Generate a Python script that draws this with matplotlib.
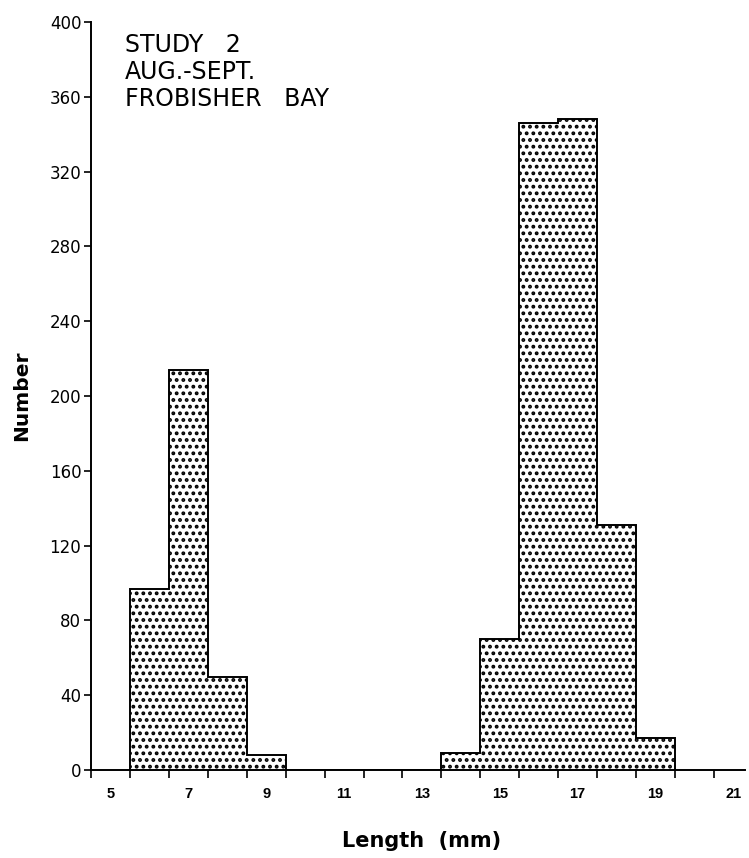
import numpy as np
import matplotlib
matplotlib.use("Agg")
import matplotlib.pyplot as plt
from matplotlib.ticker import FixedLocator, NullFormatter

# Length-frequency data (1 mm bins)
length_mm = [6, 7, 8, 9, 10, 11, 12, 13, 14, 15, 16, 17, 18, 19]
counts = [97, 214, 50, 8, 0, 0, 0, 0, 9, 70, 346, 348, 131, 17]

y_ticks = [0, 40, 80, 120, 160, 200, 240, 280, 320, 360, 400]
x_label_ticks = [5, 7, 9, 11, 13, 15, 17, 19, 21]
panel_text = ["STUDY   2", "AUG.-SEPT.", "FROBISHER   BAY"]

W, H = 749, 858
# dpi 80 makes the dot screen spacing closer to the printed one;
# point sizes are scaled back up so text keeps its pixel size
DPI = 80
S = 100 / DPI

plt.rcParams.update({
    "font.family": ["DejaVu Sans"],
    "hatch.linewidth": 1.8 * S,
    "hatch.color": "black",
})

fig = plt.figure(figsize=(W / DPI, H / DPI), dpi=DPI)
left, right, bottom, top = 91 / W, 745 / W, 1 - 770 / H, 1 - 22 / H
ax = fig.add_axes([left, bottom, right - left, top - bottom])

centers = np.asarray(length_mm, dtype=float)
edges = np.append(centers - 0.5, centers[-1] + 0.5)
ax.stairs(counts, edges, fill=True, facecolor="white", edgecolor="black",
          hatch="..", linewidth=1.4 * S, baseline=0)

ax.set_xlim(4.5, 21.3)
ax.set_ylim(0, 400)

for side in ("top", "right"):
    ax.spines[side].set_visible(False)
for side in ("left", "bottom"):
    ax.spines[side].set_linewidth(1.4 * S)

ax.set_yticks(y_ticks)
ax.set_yticklabels([str(v) for v in y_ticks], fontsize=12 * S)
ax.tick_params(axis="y", direction="out", length=5 * S, width=1.2 * S, pad=2 * S)

# tick marks at bin edges, labels at odd lengths
ax.xaxis.set_major_locator(FixedLocator(np.arange(4.5, 21.0, 1.0)))
ax.xaxis.set_major_formatter(NullFormatter())
ax.xaxis.set_minor_locator(FixedLocator(x_label_ticks))
ax.set_xticklabels([str(v) for v in x_label_ticks], minor=True,
                   fontsize=10.5 * S, fontweight="bold",
                   fontfamily="Liberation Sans")
ax.tick_params(axis="x", which="major", direction="out", length=6 * S, width=1.2 * S)
ax.tick_params(axis="x", which="minor", length=0, pad=12 * S)

ax.set_ylabel("Number", fontsize=14.5 * S, fontweight="bold")
ax.yaxis.set_label_coords(-0.092, 0.5)
ax.set_xlabel("Length  (mm)", fontsize=15 * S, fontweight="bold")
ax.xaxis.set_label_coords(0.505, -0.082)

ax.text(0.052, 0.985, "\n".join(panel_text), transform=ax.transAxes,
        ha="left", va="top", fontsize=17 * S, linespacing=1.16)

fig.savefig("out.png", dpi=DPI)
plt.close(fig)
